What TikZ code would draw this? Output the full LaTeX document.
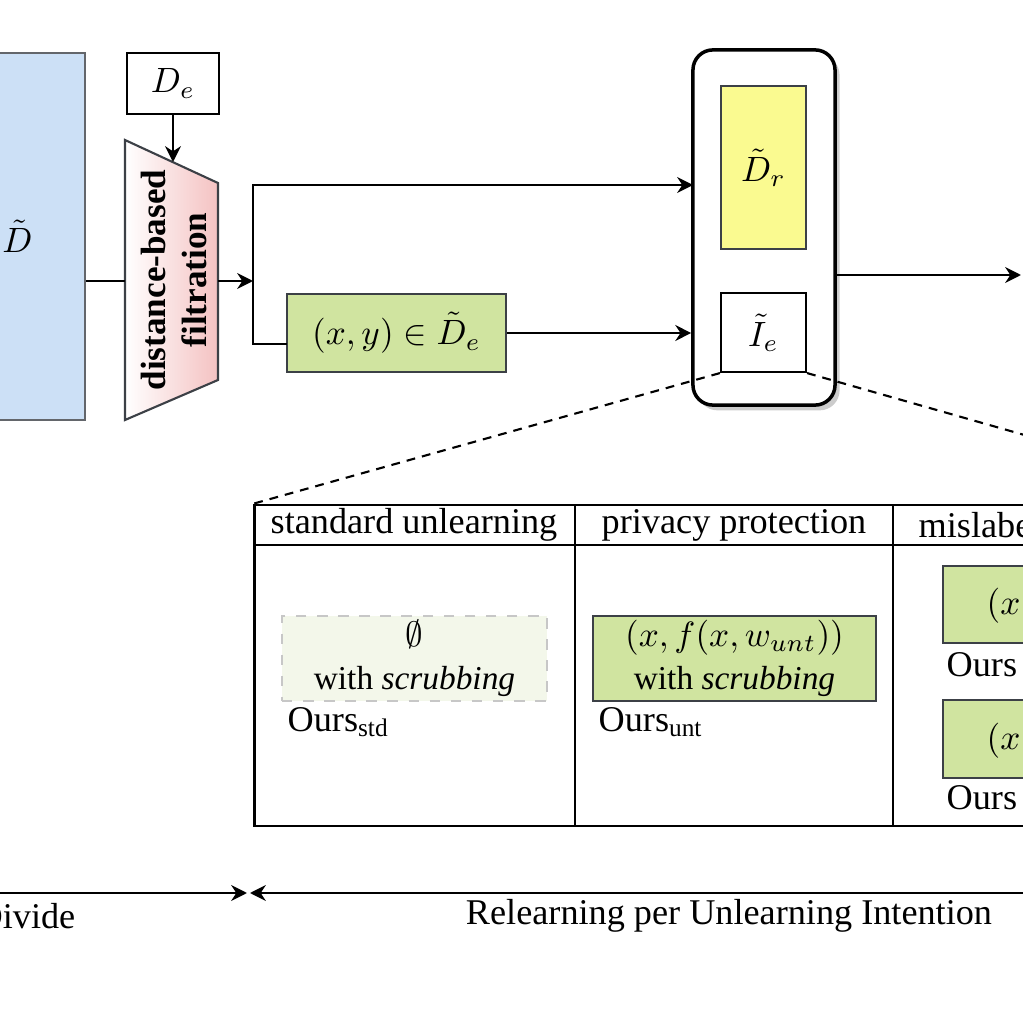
\documentclass[tikz,border=0pt]{standalone}
\usepackage{fontspec}
\setmainfont{Liberation Serif}
\usetikzlibrary{arrows.meta,shadows}

\definecolor{dataBlue}{HTML}{CCE0F6}
\definecolor{dataGreen}{HTML}{D0E4A0}
\definecolor{paleGreen}{HTML}{F3F7EA}
\definecolor{keepYellow}{HTML}{FAFA90}
\definecolor{filtPink}{HTML}{F4C2C2}
\definecolor{boxLine}{HTML}{3C4046}

\tikzset{
  box/.style={draw=boxLine, line width=0.6pt, inner sep=0pt},
  arr/.style={-{Stealth[length=4.5pt,width=4.5pt]}, line width=0.6pt},
  cut/.style={dash pattern=on 2.5pt off 2pt, line width=0.6pt},
  tabline/.style={line width=0.7pt}
}

\begin{document}
\begin{tikzpicture}[x=0.01cm, y=-0.01cm,
  every node/.style={font=\fontsize{10.3}{12.2}\selectfont}]

% Frame of the picture (1 unit = 1 pixel)
\useasboundingbox (0,0) rectangle (1023,1021);
\clip (0,0) rectangle (1023,1021);

% Data set and forgetting request
\node[box, draw=boxLine!80, fill=dataBlue, minimum width=1.35cm, minimum height=3.67cm] (data) at (17.5,236.5) {$\tilde{D}$};
\node[box, draw=black, fill=white, minimum width=0.92cm, minimum height=0.61cm] (forget) at (173,83.5) {$D_e$};

% Filtration block
\shadedraw[left color=white, right color=filtPink, draw=boxLine, line width=0.6pt]
    (125,140) -- (218,183) -- (218,380) -- (125,420) -- cycle;
\node[rotate=90, align=center, font=\fontsize{10}{11.4}\selectfont\bfseries] (filt) at (174,280) {distance-based\\filtration};
\coordinate (ftop) at (173,162);
\coordinate (fin) at (125,281);
\coordinate (fout) at (218,281);
\coordinate (split) at (253,281);

% Pool of retained and edited samples
\node[rounded corners=0.2cm, draw=black, line width=1pt, fill=white, minimum width=1.42cm, minimum height=3.55cm,
      drop shadow={shadow xshift=1.3pt, shadow yshift=-1.5pt, fill=black!40, opacity=0.5}] (pool) at (764,227.5) {};
\node[box, fill=keepYellow, minimum width=0.85cm, minimum height=1.63cm] (retain) at (763.5,167.5) {$\tilde{D}_r$};
\node[box, draw=black, fill=white, minimum width=0.85cm, minimum height=0.79cm] (relabel) at (763.5,332.5) {$\tilde{I}_e$};

% Selected samples
\node[box, fill=dataGreen, minimum width=2.19cm, minimum height=0.78cm] (edit) at (396.5,333) {$(x,y)\in\tilde{D}_e$};
\coordinate (editin) at (287,344);
\coordinate (pooltop) at (693,185);
\coordinate (poolout) at (1021,275);

% Connectors
\draw[line width=0.6pt] (data.east |- fin) -- (fin);
\draw[arr] (forget.south) -- (ftop);
\draw[arr] (fout) -- (split);
\draw[line width=0.6pt] (split) |- (editin);
\draw[arr] (split) |- (pooltop);
\draw[arr] (edit.east) -- (edit.east -| pool.west);
\draw[arr] (pool.east |- poolout) -- (poolout);

% Table of unlearning intentions
\node[draw=black, tabline, minimum width=10.09cm, minimum height=3.21cm] (tab) at (759.5,665.5) {};
\draw[tabline] (255,545) -- (1264,545);
\foreach \cx in {575,893} {
    \draw[tabline] (\cx,505) -- (\cx,826);
}
\draw[cut] (relabel.south west) -- (tab.north west);
\draw[cut] (relabel.south east) -- (tab.north east);

\node (hstd) at (414,525) {standard unlearning};
\node (hunt) at (734,525) {privacy protection};
\node[anchor=west, inner sep=0pt] (hmis) at (918,525) {mislabe};

% Cell: standard unlearning
\node[draw=black!22, dashed, fill=paleGreen, align=center, minimum width=2.65cm, minimum height=0.85cm, inner sep=0pt] (cstd) at (414.5,658.5)
    {$\emptyset$\\{\fontsize{9.5}{12.2}\selectfont with \textit{scrubbing}}};
\node[anchor=west, inner sep=0pt] (ostd) at (287,722) {Ours\textsubscript{std}};

% Cell: privacy protection
\node[box, fill=dataGreen, align=center, minimum width=2.83cm, minimum height=0.85cm] (cunt) at (734.5,658.5)
    {$(x,f(x,w_{unt}))$\\{\fontsize{9.5}{12.2}\selectfont with \textit{scrubbing}}};
\node[anchor=west, inner sep=0pt] (ount) at (598,722) {Ours\textsubscript{unt}};

% Cell: mislabel
\node[box, fill=dataGreen, minimum width=2.71cm, minimum height=0.77cm] (cmisA) at (1078.5,604.5) {};
\node[anchor=west, inner sep=0pt] (tmisA) at (986,606) {$(x$};
\node[anchor=west, inner sep=0pt] (omisA) at (946,665) {Ours};
\node[box, fill=dataGreen, minimum width=2.71cm, minimum height=0.78cm] (cmisB) at (1078.5,739) {};
\node[anchor=west, inner sep=0pt] (tmisB) at (986,741) {$(x$};
\node[anchor=west, inner sep=0pt] (omisB) at (946,798) {Ours};

% Stage ruler
\coordinate (rulL) at (-20,893);
\coordinate (rulM) at (247,893);
\coordinate (rulN) at (250,893);
\coordinate (rulR) at (1040,893);
\draw[arr] (rulL) -- (rulM);
\draw[arr] (rulR) -- (rulN);
\node[anchor=east, inner sep=0pt] (divide) at (76,916) {Divide};
\node (relearn) at (729,916) {Relearning per Unlearning Intention};

\end{tikzpicture}
\end{document}
